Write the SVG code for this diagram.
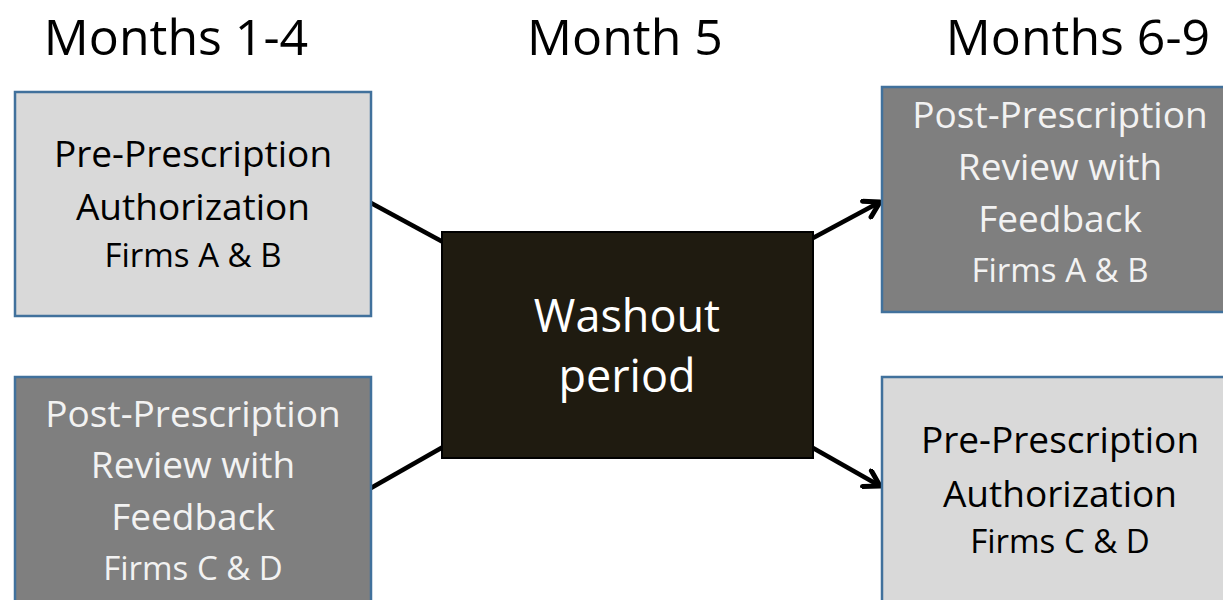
<svg xmlns="http://www.w3.org/2000/svg" width="1223" height="600" viewBox="0 0 1223 600">
  <style>
    text { font-family: "Open Sans", "Liberation Sans", sans-serif; text-anchor: middle; }
    .hdr { font-size: 50px; fill: #000; }
    .light rect { fill: #d9d9d9; stroke: #41719c; stroke-width: 2.5; }
    .dark rect { fill: #7f7f7f; stroke: #41719c; stroke-width: 2.5; }
    .light text { fill: #000; }
    .dark text { fill: #f2f2f2; }
    .big { font-size: 37px; }
    .small { font-size: 33px; }
    .conn { stroke: #000; stroke-width: 4.5; fill: none; }
  </style>
  <defs>
    <marker id="arr" viewBox="0 0 22 22" refX="18" refY="11" markerWidth="22" markerHeight="22" markerUnits="userSpaceOnUse" orient="auto">
      <path d="M3,2 L18,11 L3,20" fill="none" stroke="#000" stroke-width="5" stroke-linecap="round" stroke-linejoin="round"/>
    </marker>
  </defs>
  <rect width="1223" height="600" fill="#fff"/>

  <g id="headers">
    <text class="hdr" x="176" y="55">Months 1-4</text>
    <text class="hdr" x="625" y="55">Month 5</text>
    <text class="hdr" x="1078" y="55">Months 6-9</text>
  </g>

  <g id="connectors">
    <line class="conn" x1="371" y1="203" x2="443" y2="242"/>
    <line class="conn" x1="371" y1="488" x2="443" y2="447"/>
    <line class="conn" x1="813" y1="238" x2="880" y2="202" marker-end="url(#arr)"/>
    <line class="conn" x1="813" y1="448" x2="880" y2="486" marker-end="url(#arr)"/>
  </g>

  <g id="pre-a-b" class="light">
    <rect x="15" y="92" width="356" height="224"/>
    <text class="big" x="193" y="167">Pre-Prescription</text>
    <text class="big" x="193" y="220">Authorization</text>
    <text class="small" x="193" y="267">Firms A &amp; B</text>
  </g>

  <g id="post-c-d" class="dark">
    <rect x="15" y="377" width="356" height="240"/>
    <text class="big" x="193" y="427">Post-Prescription</text>
    <text class="big" x="193" y="478">Review with</text>
    <text class="big" x="193" y="530">Feedback</text>
    <text class="small" x="193" y="580">Firms C &amp; D</text>
  </g>

  <g id="washout">
    <rect x="442" y="232" width="371" height="226" fill="#1f1b10" stroke="#000" stroke-width="2"/>
    <text x="627" y="332" style="font-size:45px; fill:#fff">Washout</text>
    <text x="627" y="392" style="font-size:45px; fill:#fff">period</text>
  </g>

  <g id="post-a-b" class="dark">
    <rect x="882" y="87" width="360" height="225"/>
    <text class="big" x="1060" y="128">Post-Prescription</text>
    <text class="big" x="1060" y="180">Review with</text>
    <text class="big" x="1060" y="232">Feedback</text>
    <text class="small" x="1060" y="282">Firms A &amp; B</text>
  </g>

  <g id="pre-c-d" class="light">
    <rect x="882" y="377" width="360" height="240"/>
    <text class="big" x="1060" y="453">Pre-Prescription</text>
    <text class="big" x="1060" y="507">Authorization</text>
    <text class="small" x="1060" y="553">Firms C &amp; D</text>
  </g>
</svg>
